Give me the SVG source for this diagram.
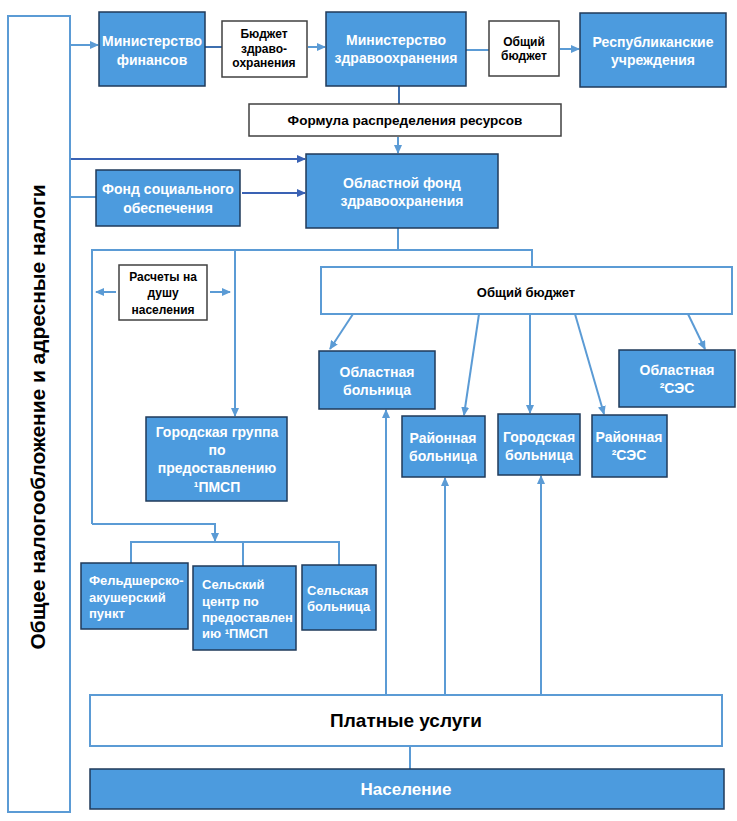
<svg xmlns="http://www.w3.org/2000/svg" width="737" height="821" viewBox="0 0 737 821">
<defs>
<marker id="ah" markerUnits="userSpaceOnUse" markerWidth="9" markerHeight="8" refX="8" refY="4" orient="auto">
<path d="M0,0 L9,4 L0,8 z" fill="#5B9BD5"/>
</marker>
<marker id="ahd" markerUnits="userSpaceOnUse" markerWidth="9" markerHeight="8" refX="8" refY="4" orient="auto">
<path d="M0,0 L9,4 L0,8 z" fill="#3A62B4"/>
</marker>
</defs>
<style>
.bb{fill:#4C9BDE;stroke:#1F3A5A;stroke-width:1.5}
.wb{fill:#fff;stroke:#404040;stroke-width:1.5}
.lb{fill:#fff;stroke:#5B9BD5;stroke-width:2}
.wt{font-family:"Liberation Sans",Arial,sans-serif;font-weight:bold;font-size:14px;fill:#fff;text-anchor:middle}
.wl{font-family:"Liberation Sans",Arial,sans-serif;font-weight:bold;font-size:13px;fill:#fff}
.bt{font-family:"Liberation Sans",Arial,sans-serif;font-weight:bold;font-size:12px;fill:#000;text-anchor:middle}
.c{fill:none;stroke:#5B9BD5;stroke-width:2}
.cd{fill:none;stroke:#3A62B4;stroke-width:2}
</style>
<rect width="737" height="821" fill="#fff"/>

<g id="connectors">
<line class="c" x1="71" y1="45" x2="98" y2="45" marker-end="url(#ah)"/>
<line class="c" x1="205" y1="47" x2="222" y2="47" style="stroke:#3E6FAF"/>
<line class="c" x1="308" y1="47" x2="325" y2="47" marker-end="url(#ah)"/>
<line class="c" x1="466" y1="50" x2="489" y2="50"/>
<line class="c" x1="560" y1="49" x2="579" y2="49" marker-end="url(#ah)"/>
<line class="c" x1="399" y1="86" x2="399" y2="104" style="stroke:#3E6FAF"/>
<line class="c" x1="398" y1="137" x2="398" y2="153" marker-end="url(#ah)"/>
<line class="cd" x1="71" y1="159" x2="305" y2="159" marker-end="url(#ahd)"/>
<line class="c" x1="71" y1="197" x2="96" y2="197"/>
<line class="cd" x1="242" y1="193" x2="305" y2="193" marker-end="url(#ahd)"/>
<polyline class="c" points="398,228 398,250"/>
<polyline class="c" points="92,524 92,250 532,250 532,267"/>
<line class="c" x1="235" y1="250" x2="235" y2="416" marker-end="url(#ah)"/>
<polyline class="c" points="92,524 215,524 215,541" marker-end="url(#ah)"/>
<line class="c" x1="116" y1="292" x2="96" y2="292" marker-end="url(#ah)"/>
<line class="c" x1="210" y1="292" x2="230" y2="292" marker-end="url(#ah)"/>
<polyline class="c" points="131,563 131,542 339,542 339,565"/>
<line class="c" x1="243" y1="542" x2="243" y2="566"/>
<line class="c" x1="353" y1="314" x2="330" y2="349" marker-end="url(#ah)"/>
<line class="c" x1="479" y1="314" x2="464" y2="415" marker-end="url(#ah)"/>
<line class="c" x1="530" y1="314" x2="530" y2="413" marker-end="url(#ah)"/>
<line class="c" x1="575" y1="314" x2="604" y2="414" marker-end="url(#ah)"/>
<line class="c" x1="688" y1="314" x2="705" y2="349" marker-end="url(#ah)"/>
<line class="c" x1="386" y1="695" x2="386" y2="410" marker-end="url(#ah)"/>
<line class="c" x1="445" y1="695" x2="445" y2="478" marker-end="url(#ah)"/>
<line class="c" x1="541" y1="695" x2="541" y2="476" marker-end="url(#ah)"/>
<line class="c" x1="410" y1="746" x2="410" y2="769"/>
</g>

<g id="taxes">
<rect class="lb" x="8" y="16" width="62" height="796"/>
<text transform="translate(45,417) rotate(-90)" font-family="Liberation Sans, Arial, sans-serif" font-weight="bold" font-size="19.5" text-anchor="middle" fill="#000" textLength="465" lengthAdjust="spacingAndGlyphs">Общее налогообложение и адресные налоги</text>
</g>

<g id="minfin">
<rect class="bb" x="99" y="12" width="106" height="74"/>
<text class="wt" x="152" y="46">Министерство</text>
<text class="wt" x="152" y="65">финансов</text>
</g>

<g id="budget-health">
<rect class="wb" x="222" y="21" width="85" height="56"/>
<text class="bt" x="264" y="38">Бюджет</text>
<text class="bt" x="264" y="53">здраво-</text>
<text class="bt" x="264" y="67">охранения</text>
</g>

<g id="minzdrav">
<rect class="bb" x="326" y="12" width="140" height="74"/>
<text class="wt" x="396" y="45">Министерство</text>
<text class="wt" x="396" y="63">здравоохранения</text>
</g>

<g id="general-budget-top">
<rect class="wb" x="489" y="21" width="70" height="55"/>
<text class="bt" x="524" y="46">Общий</text>
<text class="bt" x="524" y="60">бюджет</text>
</g>

<g id="republican">
<rect class="bb" x="580" y="13" width="146" height="74"/>
<text class="wt" x="653" y="47">Республиканские</text>
<text class="wt" x="653" y="65">учреждения</text>
</g>

<g id="formula">
<rect class="wb" x="249" y="104" width="312" height="32"/>
<text class="bt" x="405" y="125" style="font-size:13.5px">Формула распределения ресурсов</text>
</g>

<g id="regional-fund">
<rect class="bb" x="306" y="154" width="192" height="74"/>
<text class="wt" x="402" y="188">Областной фонд</text>
<text class="wt" x="402" y="206">здравоохранения</text>
</g>

<g id="social-fund">
<rect class="bb" x="96" y="170" width="144" height="56"/>
<text class="wt" x="168" y="194">Фонд социального</text>
<text class="wt" x="168" y="213">обеспечения</text>
</g>

<g id="per-capita">
<rect class="wb" x="119" y="265" width="88" height="55"/>
<text class="bt" x="163" y="281">Расчеты на</text>
<text class="bt" x="163" y="297">душу</text>
<text class="bt" x="163" y="314">населения</text>
</g>

<g id="general-budget">
<rect class="lb" x="321" y="267" width="411" height="47"/>
<text class="bt" x="526" y="297" style="font-size:13px">Общий бюджет</text>
</g>

<g id="regional-hospital">
<rect class="bb" x="319" y="351" width="116" height="58"/>
<text class="wt" x="377" y="377">Областная</text>
<text class="wt" x="377" y="395">больница</text>
</g>

<g id="district-hospital">
<rect class="bb" x="402" y="416" width="83" height="61"/>
<text class="wt" x="443" y="443">Районная</text>
<text class="wt" x="443" y="461">больница</text>
</g>

<g id="city-hospital">
<rect class="bb" x="498" y="414" width="82" height="61"/>
<text class="wt" x="539" y="442">Городская</text>
<text class="wt" x="539" y="460">больница</text>
</g>

<g id="district-ses">
<rect class="bb" x="592" y="415" width="75" height="62"/>
<text class="wt" x="629" y="442">Районная</text>
<text class="wt" x="629" y="460">²СЭС</text>
</g>

<g id="regional-ses">
<rect class="bb" x="619" y="350" width="116" height="57"/>
<text class="wt" x="677" y="375">Областная</text>
<text class="wt" x="677" y="393">²СЭС</text>
</g>

<g id="city-phc">
<rect class="bb" x="146" y="417" width="141" height="84"/>
<text class="wt" x="217" y="437">Городская группа</text>
<text class="wt" x="217" y="455">по</text>
<text class="wt" x="217" y="473">предоставлению</text>
<text class="wt" x="217" y="492">¹ПМСП</text>
</g>

<g id="feldsher">
<rect class="bb" x="81" y="563" width="107" height="66"/>
<text class="wl" x="89" y="585">Фельдшерско-</text>
<text class="wl" x="89" y="602">акушерский</text>
<text class="wl" x="89" y="618">пункт</text>
</g>

<g id="rural-phc">
<rect class="bb" x="193" y="566" width="103" height="84"/>
<text class="wl" x="202" y="589">Сельский</text>
<text class="wl" x="202" y="606">центр по</text>
<text class="wl" x="202" y="622">предоставлен</text>
<text class="wl" x="202" y="638">ию ¹ПМСП</text>
</g>

<g id="rural-hospital">
<rect class="bb" x="302" y="565" width="74" height="65"/>
<text class="wl" x="307" y="595">Сельская</text>
<text class="wl" x="307" y="611">больница</text>
</g>

<g id="paid-services">
<rect class="lb" x="90" y="695" width="632" height="51"/>
<text class="bt" x="406" y="727" style="font-size:19px">Платные услуги</text>
</g>

<g id="population">
<rect class="bb" x="90" y="769" width="634" height="40"/>
<text class="wt" x="406" y="795" style="font-size:17px">Население</text>
</g>
</svg>
